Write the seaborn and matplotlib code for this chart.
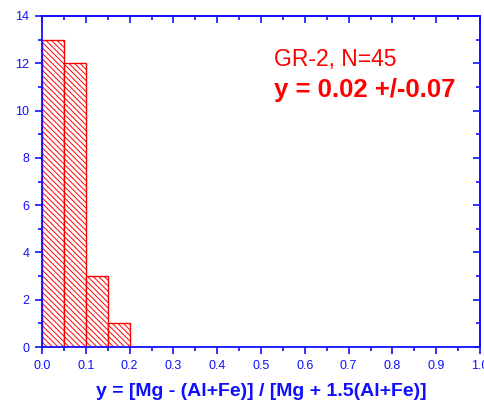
import matplotlib
matplotlib.use("Agg")
import matplotlib.pyplot as plt
import seaborn as sns
import numpy as np
import pandas as pd
from matplotlib.ticker import MultipleLocator

# Histogram of y = [Mg - (Al+Fe)] / [Mg + 1.5(Al+Fe)]
bin_edges = [0.0, 0.05, 0.10, 0.15, 0.20]
bin_centers = [0.025, 0.075, 0.125, 0.175]
counts = [13, 12, 3, 1]

sample_label = "GR-2, N=45"
stat_label = "y = 0.02 +/-0.07"
x_label = "y = [Mg - (Al+Fe)] / [Mg + 1.5(Al+Fe)]"

sns.set_style("white")
plt.rcParams["font.family"] = ["Liberation Sans", "DejaVu Sans"]
plt.rcParams["hatch.linewidth"] = 0.7
plt.rcParams["hatch.color"] = "red"

blue = "#1010ff"
red = "#ff0000"

fig = plt.figure(figsize=(4.85, 4.05), dpi=100)
ax = fig.add_axes([0.0866, 0.1432, 0.9031, 0.8173])

df = pd.DataFrame({"y": bin_centers, "n": counts})
sns.histplot(data=df, x="y", weights="n", bins=bin_edges, ax=ax,
             fill=True, color="white", edgecolor=red, linewidth=1.0)
for p in ax.patches:
    p.set_facecolor("white")
    p.set_edgecolor(red)
    p.set_hatch("\\" * 6)

ax.set_xlim(0, 1.0)
ax.set_ylim(0, 14)
ax.xaxis.set_major_locator(MultipleLocator(0.1))
ax.xaxis.set_minor_locator(MultipleLocator(0.05))
ax.yaxis.set_major_locator(MultipleLocator(2))
ax.yaxis.set_minor_locator(MultipleLocator(1))
ax.xaxis.set_major_formatter(matplotlib.ticker.FormatStrFormatter("%.1f"))

for s in ax.spines.values():
    s.set_color(blue)
    s.set_linewidth(1.3)

ax.tick_params(axis="both", which="both", colors=blue, labelcolor=blue,
               labelsize=9, width=1.2)
ax.tick_params(axis="both", which="major", length=5, pad=4)
ax.tick_params(axis="both", which="minor", length=3)
ax.tick_params(axis="x", which="both", direction="out", top=False, bottom=True)
ax.tick_params(axis="y", which="both", direction="out", left=True, right=False)

# mirrored inward ticks on the top and right spines
axt = ax.secondary_xaxis("top")
axt.xaxis.set_major_locator(MultipleLocator(0.1))
axt.xaxis.set_minor_locator(MultipleLocator(0.05))
axt.tick_params(which="both", direction="in", colors=blue, labeltop=False, width=1.2)
axt.tick_params(which="major", length=5)
axt.tick_params(which="minor", length=3)
axt.spines["top"].set_color(blue)
axt.spines["top"].set_linewidth(1.3)

axr = ax.secondary_yaxis("right")
axr.yaxis.set_major_locator(MultipleLocator(2))
axr.yaxis.set_minor_locator(MultipleLocator(1))
axr.tick_params(which="both", direction="in", colors=blue, labelright=False, width=1.2)
axr.tick_params(which="major", length=5)
axr.tick_params(which="minor", length=3)
axr.spines["right"].set_color(blue)
axr.spines["right"].set_linewidth(1.3)

ax.set_ylabel("")
ax.set_xlabel(x_label, color=blue, fontsize=14, fontweight="bold", labelpad=8)

ax.text(0.53, 0.87, sample_label, transform=ax.transAxes, color=red,
        fontsize=16.5, ha="left", va="center")
ax.text(0.53, 0.775, stat_label, transform=ax.transAxes, color=red,
        fontsize=18.5, fontweight="bold", ha="left", va="center")

fig.savefig("out.png", dpi=100)
